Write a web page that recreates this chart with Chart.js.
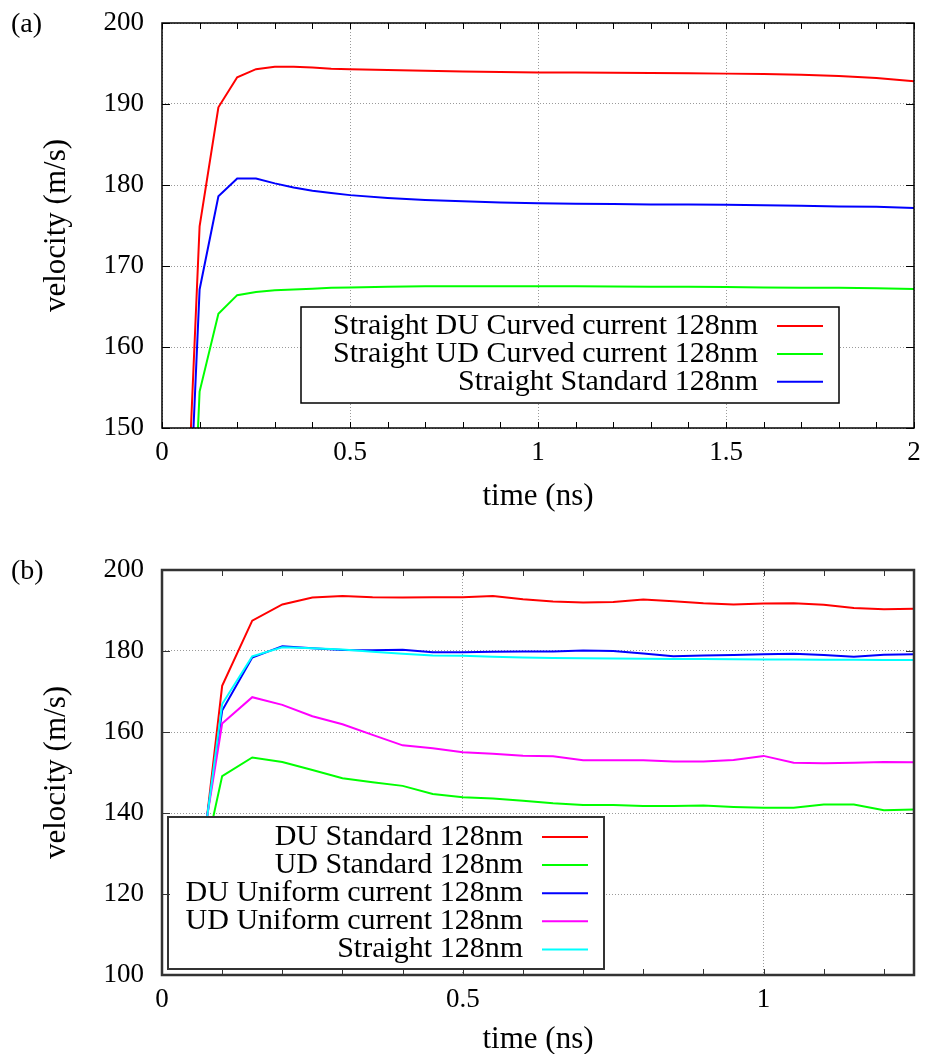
<!DOCTYPE html>
<html>
<head>
<meta charset="utf-8">
<script src="https://cdn.jsdelivr.net/npm/chart.js@4.4.1/dist/chart.umd.min.js"></script>
<style>
  html, body { margin: 0; padding: 0; background: #fff; }
  .panel { position: absolute; left: 0; }
</style>
</head>
<body>
<div class="panel" style="top:0"><canvas id="chartA" width="927" height="527"></canvas></div>
<div class="panel" style="top:527px"><canvas id="chartB" width="927" height="527"></canvas></div>
<script>
// (a) time axis, ns
const timeA = [0.05, 0.1, 0.15, 0.2, 0.25, 0.3, 0.35, 0.4, 0.45, 0.5,
               0.6, 0.7, 0.8, 0.9, 1.0, 1.1, 1.2, 1.3, 1.4, 1.5, 1.6, 1.7, 1.8, 1.9, 2.0];
const duCurved = [121, 174.9, 189.6, 193.3, 194.3, 194.6, 194.6, 194.5, 194.35, 194.3,
                  194.2, 194.1, 194.0, 193.95, 193.9, 193.88, 193.85, 193.82, 193.8, 193.75, 193.7, 193.6, 193.45, 193.2, 192.8];
const udCurved = [102, 154.5, 164.1, 166.4, 166.8, 167.0, 167.1, 167.2, 167.3, 167.35,
                  167.45, 167.5, 167.5, 167.5, 167.5, 167.5, 167.48, 167.45, 167.43, 167.4, 167.35, 167.3, 167.3, 167.25, 167.15];
const straightStd = [114.5, 167.1, 178.6, 180.8, 180.8, 180.2, 179.7, 179.3, 179.0, 178.75,
                     178.4, 178.15, 178.0, 177.85, 177.75, 177.7, 177.65, 177.6, 177.6, 177.55, 177.5, 177.45, 177.35, 177.3, 177.15];
const labelsA = ['Straight DU Curved current 128nm', 'Straight UD Curved current 128nm', 'Straight Standard 128nm'];

// (b) time axis, ns
const timeB = [0.05, 0.1, 0.15, 0.2, 0.25, 0.3, 0.35, 0.4, 0.45, 0.5, 0.55, 0.6, 0.65,
               0.7, 0.75, 0.8, 0.85, 0.9, 0.95, 1.0, 1.05, 1.1, 1.15, 1.2, 1.25];
const duStd = [107, 171.4, 187.5, 191.5, 193.2, 193.6, 193.25, 193.2, 193.3, 193.3, 193.6, 192.8, 192.2,
               192.0, 192.1, 192.7, 192.3, 191.8, 191.5, 191.7, 191.8, 191.4, 190.6, 190.3, 190.45];
const udStd = [115, 149.1, 153.7, 152.6, 150.6, 148.6, 147.6, 146.7, 144.7, 143.9, 143.6, 143.0, 142.4,
               142.0, 142.0, 141.7, 141.7, 141.85, 141.5, 141.3, 141.3, 142.1, 142.1, 140.7, 140.85];
const duUniform = [113, 165.3, 178.4, 181.2, 180.7, 180.25, 180.2, 180.3, 179.7, 179.7, 179.8, 179.9, 179.9,
                   180.1, 180.0, 179.4, 178.7, 178.9, 179.0, 179.2, 179.3, 179.0, 178.6, 179.1, 179.2];
const udUniform = [116, 162.1, 168.6, 166.7, 163.9, 161.9, 159.3, 156.7, 156.0, 155.0, 154.65, 154.15, 154.0,
                   153.0, 153.0, 153.0, 152.7, 152.7, 153.1, 154.1, 152.4, 152.3, 152.4, 152.6, 152.5];
const straight = [111, 166.9, 178.7, 180.9, 180.7, 180.4, 179.8, 179.3, 178.9, 178.85, 178.6, 178.4, 178.3,
                  178.2, 178.15, 178.1, 178.05, 178.0, 177.95, 177.9, 177.9, 177.85, 177.85, 177.8, 177.8];
const labelsB = ['DU Standard 128nm', 'UD Standard 128nm', 'DU Uniform current 128nm', 'UD Uniform current 128nm', 'Straight 128nm'];

const SERIF = "'Liberation Serif', 'Times New Roman', serif";

function series(times, values) {
    return times.map((t, i) => ({ x: t, y: values[i] }));
}

// gnuplot-like frame: inward ticks, box, key inside the plot, panel tag
const gnuFrame = {
    id: 'gnuFrame',
    afterDraw(chart, args, opts) {
        const { ctx, chartArea: a, scales: { x, y } } = chart;
        ctx.save();

        // key
        const k = opts.key;
        ctx.fillStyle = '#fff';
        ctx.fillRect(k.left, k.top, k.right - k.left, k.bottom - k.top);
        ctx.strokeStyle = opts.keyColor;
        ctx.lineWidth = opts.keyWidth;
        ctx.strokeRect(k.left, k.top, k.right - k.left, k.bottom - k.top);
        ctx.font = '30px ' + SERIF;
        ctx.textAlign = 'right';
        ctx.textBaseline = 'middle';
        chart.data.datasets.forEach((ds, i) => {
            const ry = k.firstRow + i * k.rowStep;
            ctx.fillStyle = '#000';
            ctx.fillText(ds.label, k.textRight, ry);
            ctx.strokeStyle = ds.borderColor;
            ctx.lineWidth = 2;
            ctx.beginPath();
            ctx.moveTo(k.sample[0], ry);
            ctx.lineTo(k.sample[1], ry);
            ctx.stroke();
        });

        // ticks
        ctx.strokeStyle = opts.frameColor;
        ctx.lineWidth = 1;
        ctx.beginPath();
        const n = Math.round((x.max - x.min) / opts.xMinor);
        for (let i = 0; i <= n; i++) {
            const px = Math.round(x.getPixelForValue(x.min + i * opts.xMinor)) + 0.5;
            ctx.moveTo(px, a.bottom); ctx.lineTo(px, a.bottom - 6);
            ctx.moveTo(px, a.top); ctx.lineTo(px, a.top + 6);
        }
        y.ticks.forEach(t => {
            const py = Math.round(y.getPixelForValue(t.value)) + 0.5;
            ctx.moveTo(a.left, py); ctx.lineTo(a.left + 8, py);
            ctx.moveTo(a.right, py); ctx.lineTo(a.right - 8, py);
        });
        ctx.stroke();

        // border
        ctx.lineWidth = opts.frameWidth;
        ctx.strokeRect(a.left, a.top, a.right - a.left, a.bottom - a.top);

        // panel tag
        ctx.fillStyle = '#000';
        ctx.font = '28px ' + SERIF;
        ctx.textAlign = 'left';
        ctx.fillText(opts.tag, 11, opts.tagY);
        ctx.restore();
    }
};

function makePanel(id, cfg) {
    return new Chart(document.getElementById(id), {
        type: 'line',
        data: {
            datasets: cfg.datasets.map((d, i) => ({
                label: d.label,
                data: series(cfg.times, d.values),
                borderColor: d.color,
                borderWidth: 2,
                pointRadius: 0,
                tension: 0,
                fill: false,
                order: -i
            }))
        },
        options: {
            responsive: false,
            animation: false,
            layout: { padding: { left: 0, right: 13, top: cfg.padTop, bottom: 0 } },
            plugins: {
                legend: { display: false },
                tooltip: { enabled: false },
                gnuFrame: cfg.frame
            },
            scales: {
                x: {
                    type: 'linear',
                    min: 0,
                    max: cfg.xMax,
                    afterFit: s => {
                        s.height = cfg.xAxisHeight;
                        s.paddingLeft = 0;
                        s.paddingRight = 0;
                    },
                    ticks: {
                        stepSize: 0.5,
                        includeBounds: false,
                        padding: 9,
                        color: '#000',
                        maxRotation: 0,
                        font: { family: SERIF, size: 27 },
                        callback: v => String(v)
                    },
                    grid: { color: '#9a9a9a', lineWidth: 1, drawTicks: false },
                    border: { display: false, dash: [1, 2] },
                    title: {
                        display: true,
                        text: 'time (ns)',
                        color: '#000',
                        font: { family: SERIF, size: 31, lineHeight: 0.8 },
                        padding: { top: 0, bottom: cfg.xTitlePad }
                    }
                },
                y: {
                    min: cfg.yMin,
                    max: 200,
                    afterFit: s => {
                        s.width = 162;
                        s.paddingTop = 0;
                        s.paddingBottom = 0;
                    },
                    ticks: {
                        stepSize: cfg.yStep,
                        padding: 18,
                        color: '#000',
                        font: { family: SERIF, size: 27 }
                    },
                    grid: { color: '#9a9a9a', lineWidth: 1, drawTicks: false },
                    border: { display: false, dash: [1, 2] },
                    title: {
                        display: true,
                        text: 'velocity (m/s)',
                        color: '#000',
                        font: { family: SERIF, size: 31 },
                        padding: { top: 38, bottom: 0 }
                    }
                }
            }
        },
        plugins: [gnuFrame]
    });
}

// (a) straight wire, curved current
makePanel('chartA', {
    times: timeA,
    xMax: 2,
    yMin: 150,
    yStep: 10,
    padTop: 23,
    xAxisHeight: 99,
    xTitlePad: 18,
    datasets: [
        { label: labelsA[0], values: duCurved, color: '#ff0000' },
        { label: labelsA[1], values: udCurved, color: '#00ff00' },
        { label: labelsA[2], values: straightStd, color: '#0000ff' }
    ],
    frame: {
        tag: '(a)', tagY: 25, xMinor: 0.1,
        frameColor: '#000', frameWidth: 1.5,
        keyColor: '#000', keyWidth: 1.5,
        key: { left: 301, right: 839, top: 307, bottom: 403, textRight: 758, firstRow: 326, rowStep: 27.9, sample: [777, 823] }
    }
});

// (b) standard vs uniform current
makePanel('chartB', {
    times: timeB,
    xMax: 1.25,
    yMin: 100,
    yStep: 20,
    padTop: 43,
    xAxisHeight: 79,
    xTitlePad: 2,
    datasets: [
        { label: labelsB[0], values: duStd, color: '#ff0000' },
        { label: labelsB[1], values: udStd, color: '#00ff00' },
        { label: labelsB[2], values: duUniform, color: '#0000ff' },
        { label: labelsB[3], values: udUniform, color: '#ff00ff' },
        { label: labelsB[4], values: straight, color: '#00ffff' }
    ],
    frame: {
        tag: '(b)', tagY: 45, xMinor: 0.1,
        frameColor: '#333', frameWidth: 2.5,
        keyColor: '#333', keyWidth: 2,
        key: { left: 168, right: 604, top: 290, bottom: 442, textRight: 523, firstRow: 310, rowStep: 28.1, sample: [542, 588] }
    }
});
</script>
</body>
</html>
